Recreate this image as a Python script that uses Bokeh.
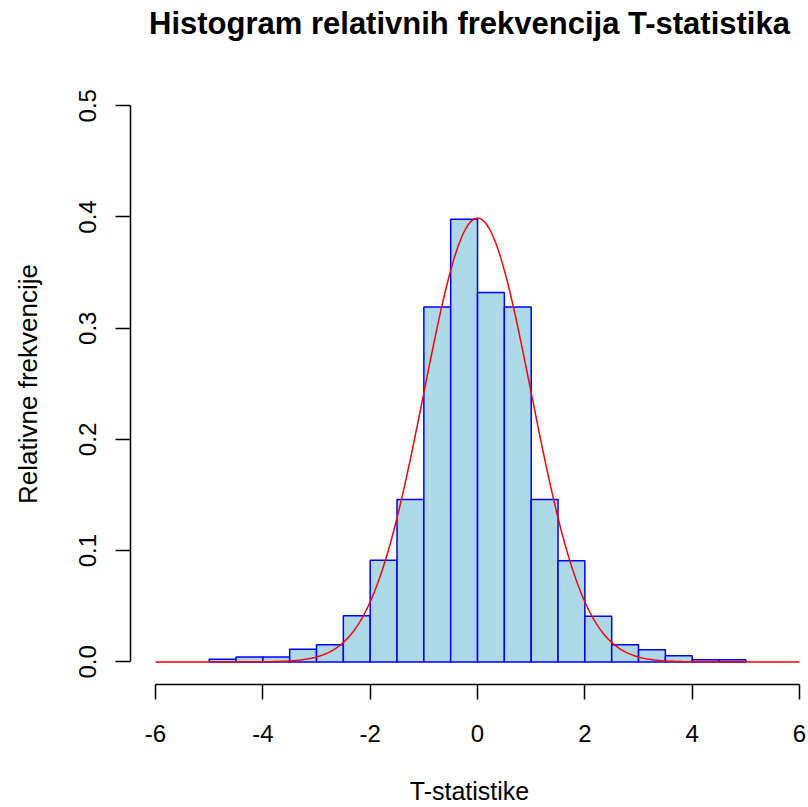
import numpy as np
from bokeh.plotting import figure
from bokeh.models import Range1d, FixedTicker, Title
from bokeh.embed import file_html
from bokeh.resources import INLINE

# Histogram bins (left/right edges) and relative frequencies
bin_left = [-5.0, -4.5, -4.0, -3.5, -3.0, -2.5, -2.0, -1.5, -1.0, -0.5,
            0.0, 0.5, 1.0, 1.5, 2.0, 2.5, 3.0, 3.5, 4.0, 4.5]
bin_right = [-4.5, -4.0, -3.5, -3.0, -2.5, -2.0, -1.5, -1.0, -0.5, 0.0,
             0.5, 1.0, 1.5, 2.0, 2.5, 3.0, 3.5, 4.0, 4.5, 5.0]
rel_freq = [0.0024, 0.0045, 0.0045, 0.0114, 0.0155, 0.0415, 0.0913, 0.146, 0.319, 0.398,
            0.332, 0.319, 0.146, 0.091, 0.041, 0.0155, 0.011, 0.0055, 0.002, 0.002]

# Standard normal density overlay (mean 0, sd 1) over [-6, 6]
curve_mu = 0.0
curve_sd = 1.0
curve_x = np.linspace(-6, 6, 401)
curve_y = np.exp(-0.5 * ((curve_x - curve_mu) / curve_sd) ** 2) / (curve_sd * np.sqrt(2 * np.pi))

x_ticks = [-6, -4, -2, 0, 2, 4, 6]
x_tick_labels = ["-6", "-4", "-2", "0", "2", "4", "6"]
y_ticks = [0.0, 0.1, 0.2, 0.3, 0.4, 0.5]
y_tick_labels = ["0.0", "0.1", "0.2", "0.3", "0.4", "0.5"]

FONT = "Liberation Sans"

p = figure(width=808, height=807, output_backend="svg", toolbar_location=None,
           x_range=Range1d(-6.466, 6.167), y_range=Range1d(-0.0203, 0.52),
           min_border_left=130, min_border_right=0, min_border_top=83, min_border_bottom=123)
p.outline_line_color = None
p.grid.visible = False
p.background_fill_color = "white"
p.border_fill_color = "white"

p.quad(left=bin_left, right=bin_right, bottom=0, top=rel_freq,
       fill_color="#ADD8E6", line_color="#0000FF", line_width=1.5)
p.line(curve_x, curve_y, line_color="#FF0000", line_width=1.5)

# spacer between plot region and title (R's top margin)
spacer = Title(text=" ", text_font=FONT, text_font_size="37px", standoff=0)
p.add_layout(spacer, "above")

# Title
t = Title(text="Histogram relativnih frekvencija T-statistika", align="center",
          text_font=FONT, text_font_size="31px", text_font_style="bold",
          text_color="black", standoff=0, offset=4)
p.add_layout(t, "above")

# Axes
xa = p.xaxis[0]
xa.bounds = (-6, 6)
xa.ticker = FixedTicker(ticks=x_ticks)
xa.major_label_overrides = {v: s for v, s in zip(x_ticks, x_tick_labels)}
xa.minor_tick_line_color = None
xa.major_tick_out = 15
xa.major_tick_in = 0
xa.major_label_standoff = 25
xa.major_label_text_font = FONT
xa.major_label_text_font_size = "24px"
xa.major_label_text_color = "black"
xa.axis_line_width = 1.5
xa.major_tick_line_width = 1.5
xa.axis_label = "T-statistike"
xa.axis_label_text_font = FONT
xa.axis_label_text_font_size = "25px"
xa.axis_label_text_font_style = "normal"
xa.axis_label_text_color = "black"
xa.axis_label_standoff = 32

ya = p.yaxis[0]
ya.bounds = (0, 0.5)
ya.ticker = FixedTicker(ticks=y_ticks)
ya.major_label_overrides = {v: s for v, s in zip(y_ticks, y_tick_labels)}
ya.minor_tick_line_color = None
ya.major_tick_out = 15
ya.major_tick_in = 0
ya.major_label_standoff = 19
ya.major_label_orientation = "vertical"
ya.major_label_text_font = FONT
ya.major_label_text_font_size = "24px"
ya.major_label_text_color = "black"
ya.axis_line_width = 1.5
ya.major_tick_line_width = 1.5
ya.axis_label = "Relativne frekvencije"
ya.axis_label_text_font = FONT
ya.axis_label_text_font_size = "26px"
ya.axis_label_text_font_style = "normal"
ya.axis_label_text_color = "black"
ya.axis_label_standoff = 34

open("out.html", "w").write(file_html(p, INLINE))
